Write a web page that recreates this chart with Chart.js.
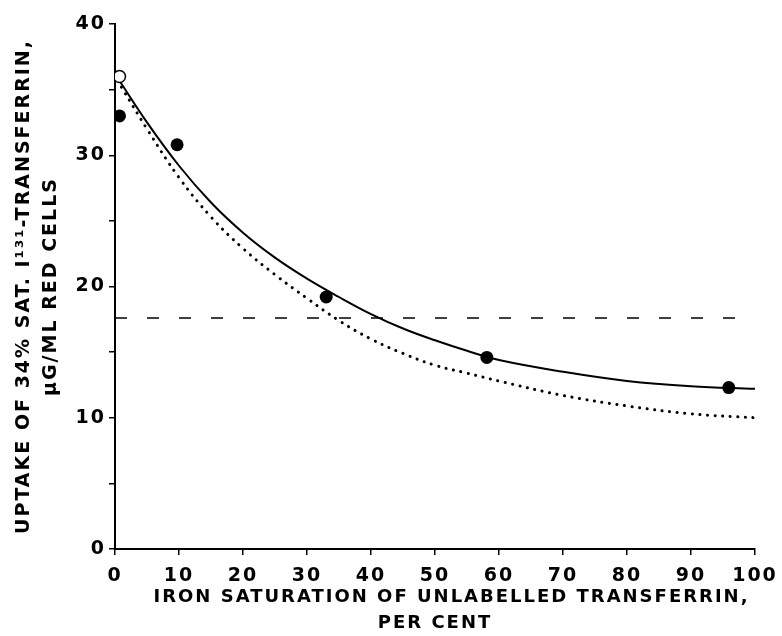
<!DOCTYPE html>
<html>
<head>
<meta charset="utf-8">
<script src="https://cdn.jsdelivr.net/npm/chart.js@4.4.1/dist/chart.umd.min.js"></script>
<style>
  html, body { margin: 0; padding: 0; background: #fff; }
  #wrap { width: 782px; height: 636px; }
</style>
</head>
<body>
<div id="wrap"><canvas id="uptakeChart" width="782" height="636"></canvas></div>
<script>
// measured points (iron saturation %, uptake ug/ml red cells)
const filledX = [0.7, 9.7, 33.0, 58.1, 95.9];
const filledY = [33.0, 30.8, 19.2, 14.6, 12.3];
const openX = [0.7];
const openY = [36.0];

// solid curve
const solidX = [0.8, 5, 10, 15, 20, 25, 30, 35, 40, 45, 50, 55, 60, 70, 80, 90, 100];
const solidY = [35.6, 32.5, 29.2, 26.4, 24.1, 22.2, 20.6, 19.2, 17.9, 16.8, 15.9, 15.1, 14.4, 13.5, 12.8, 12.4, 12.2];

// dotted curve
const dottedX = [1, 5, 10, 15, 20, 25, 30, 35, 40, 45, 50, 55, 60, 70, 80, 90, 100];
const dottedY = [35.2, 32.0, 28.3, 25.3, 22.9, 20.9, 19.1, 17.4, 16.0, 14.9, 14.0, 13.4, 12.8, 11.7, 10.9, 10.3, 10.0];

// dashed horizontal line
const dashedX = [0, 100];
const dashedY = [17.6, 17.6];

const xTicks = [0, 10, 20, 30, 40, 50, 60, 70, 80, 90, 100];
const yTicks = [0, 10, 20, 30, 40];

function pts(xs, ys) {
    return xs.map((x, i) => ({ x: x, y: ys[i] }));
}

const spacing = {
    id: 'spacing',
    beforeLayout(chart) { chart.ctx.letterSpacing = '2px'; },
    beforeDraw(chart) { chart.ctx.letterSpacing = '2px'; }
};

const ctx = document.getElementById('uptakeChart').getContext('2d');

new Chart(ctx, {
    type: 'scatter',
    data: {
        datasets: [
            {
                label: 'observed',
                data: pts(filledX, filledY),
                pointRadius: 6.5,
                pointBackgroundColor: '#000',
                pointBorderColor: '#000',
                pointBorderWidth: 0,
                showLine: false,
                order: 0
            },
            {
                label: 'open',
                data: pts(openX, openY),
                pointRadius: 6,
                pointBackgroundColor: '#fff',
                pointBorderColor: '#000',
                pointBorderWidth: 1.5,
                showLine: false,
                order: 0
            },
            {
                label: 'solid',
                data: pts(solidX, solidY),
                showLine: true,
                borderColor: '#000',
                borderWidth: 2,
                pointRadius: 0,
                tension: 0.4,
                order: 1
            },
            {
                label: 'dotted',
                data: pts(dottedX, dottedY),
                showLine: true,
                borderColor: '#000',
                borderWidth: 3,
                borderDash: [0.1, 7.5],
                borderCapStyle: 'round',
                pointRadius: 0,
                tension: 0.4,
                order: 1
            },
            {
                label: 'dashed',
                data: pts(dashedX, dashedY),
                showLine: true,
                borderColor: '#000',
                borderWidth: 1.5,
                borderDash: [12, 20],
                pointRadius: 0,
                order: 1
            }
        ]
    },
    options: {
        responsive: false,
        animation: false,
        layout: { padding: { top: 24, right: 27, left: 0, bottom: 0 } },
        plugins: {
            legend: { display: false },
            tooltip: { enabled: false }
        },
        scales: {
            x: {
                type: 'linear',
                min: 0,
                max: 100,
                afterFit: (s) => {
                    s.height = 87;
                    s.paddingLeft = 0;
                    s.paddingRight = 0;
                },
                afterBuildTicks: (s) => { s.ticks = xTicks.map(v => ({ value: v })); },
                border: { color: '#000', width: 2 },
                grid: { drawOnChartArea: false, drawTicks: true, tickLength: 6, color: '#000', lineWidth: 1.5 },
                ticks: {
                    color: '#000',
                    padding: 10,
                    maxRotation: 0,
                    font: { family: 'DejaVu Sans', size: 19, weight: 'bold' }
                },
                title: {
                    display: true,
                    text: ['\u2002\u2002\u2002IRON SATURATION OF UNLABELLED TRANSFERRIN,', 'PER CENT'],
                    color: '#000',
                    padding: { top: 0, bottom: 0 },
                    font: { family: 'DejaVu Sans', size: 18, weight: 'bold', lineHeight: 1.44 }
                }
            },
            y: {
                type: 'linear',
                min: 0,
                max: 40,
                afterFit: (s) => { s.width = 115; },
                afterBuildTicks: (s) => {
                    const t = [];
                    for (let v = 0; v <= 40; v += 5) t.push({ value: v });
                    s.ticks = t;
                },
                border: { color: '#000', width: 2 },
                grid: { drawOnChartArea: false, drawTicks: true, tickLength: 6, color: '#000', lineWidth: 1.5 },
                ticks: {
                    color: '#000',
                    padding: 3,
                    callback: (v) => yTicks.includes(v) ? String(v) : '',
                    font: { family: 'DejaVu Sans', size: 19, weight: 'bold' }
                },
                title: {
                    display: true,
                    text: ['UPTAKE OF 34% SAT. I\u00b9\u00b3\u00b9-TRANSFERRIN,', '\u03bcG/ML RED CELLS'],
                    color: '#000',
                    padding: { top: 11, bottom: 0 },
                    font: { family: 'DejaVu Sans', size: 19, weight: 'bold', lineHeight: 1.4 }
                }
            }
        }
    },
    plugins: [spacing]
});
</script>
</body>
</html>
